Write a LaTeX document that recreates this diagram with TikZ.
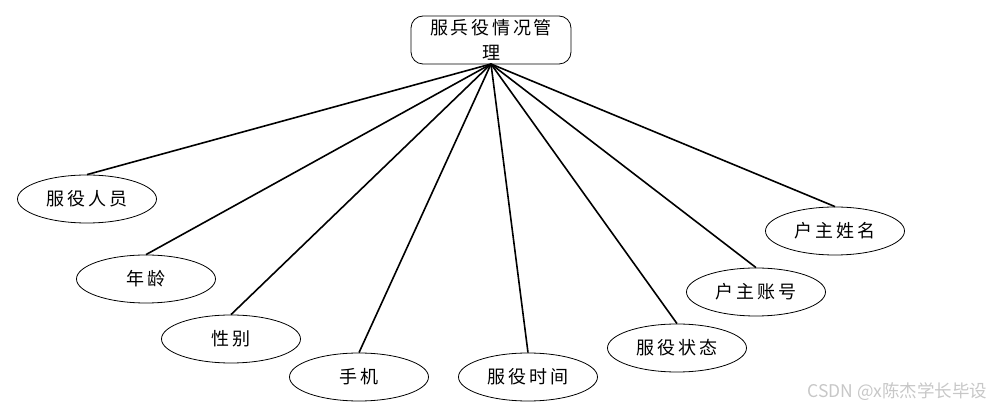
\documentclass[tikz,border=0pt]{standalone}
\usepackage{fontspec}
\setmainfont{Liberation Sans}
\newfontfamily\cjk[LetterSpace=15]{Noto Sans CJK SC}
\newfontfamily\wmfont{Noto Sans CJK SC}
\usetikzlibrary{shapes.geometric}
\begin{document}
\begin{tikzpicture}[x=1pt,y=-1pt,
  attr/.style={draw=black,line width=0.8pt,ellipse,minimum width=139pt,minimum height=48pt,inner sep=0pt,font=\cjk\fontsize{18}{20}\selectfont},
  ent/.style={draw=black,line width=0.8pt,rounded corners=12pt,minimum width=160pt,minimum height=48pt,inner sep=0pt,align=center,font=\cjk\fontsize{18}{25}\selectfont},
  link/.style={line width=1.6pt,black}]
\useasboundingbox (0,0) rectangle (999,411);
\node[ent] (top) at (491,40) {服兵役情况管\\理};
\coordinate (hub) at (491,64);
\node[attr] (a1) at (87,199) {服役人员};
\node[attr] (a2) at (146,279) {年龄};
\node[attr] (a3) at (231,339) {性别};
\node[attr] (a4) at (359,377) {手机};
\node[attr] (a5) at (528,377) {服役时间};
\node[attr] (a6) at (677,348) {服役状态};
\node[attr] (a7) at (756,292) {户主账号};
\node[attr] (a8) at (835,231) {户主姓名};
\foreach \n in {a1,a2,a3,a4,a5,a6,a7,a8}{
  \draw[link] (hub) -- (\n.north);
}
\node[font=\wmfont\fontsize{17.5}{20}\selectfont,text=black!22,anchor=east] (wm) at (991,392) {CSDN @x陈杰学长毕设};
\end{tikzpicture}
\end{document}
